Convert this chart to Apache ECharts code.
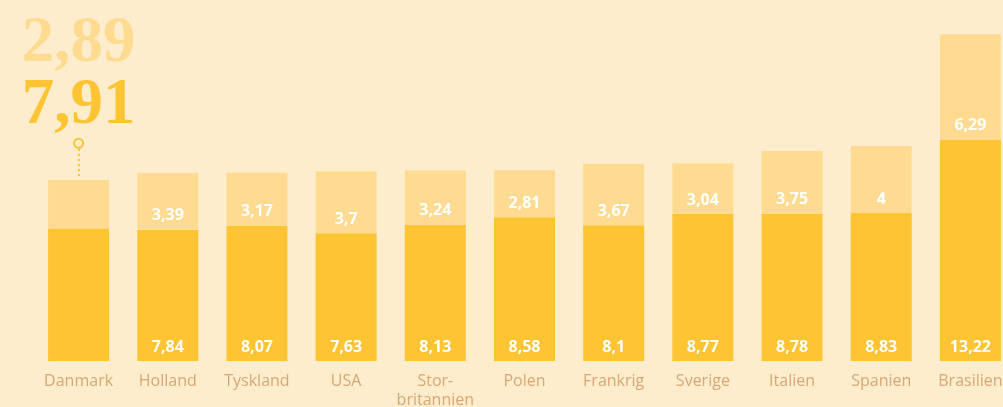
<!DOCTYPE html>
<html>
<head>
<meta charset="utf-8">
<script src="https://cdn.jsdelivr.net/npm/echarts@6/dist/echarts.min.js"></script>
<style>
  html, body { margin: 0; padding: 0; background: #fdedcc; }
  #chart { width: 1003px; height: 407px; }
</style>
</head>
<body>
<div id="chart"></div>
<script>
    // data
    var countries = ['Danmark', 'Holland', 'Tyskland', 'USA', 'Stor-\nbritannien', 'Polen', 'Frankrig', 'Sverige', 'Italien', 'Spanien', 'Brasilien'];
    var baseValues = [7.91, 7.84, 8.07, 7.63, 8.13, 8.58, 8.1, 8.77, 8.78, 8.83, 13.22];
    var topValues = [2.89, 3.39, 3.17, 3.7, 3.24, 2.81, 3.67, 3.04, 3.75, 4, 6.29];

    var bg = '#fdedcc'
    var dark = '#fec433'
    var light = '#fedb90'
    var font = 'Open Sans'

    function fmt(v) {
        return String(v).replace('.', ',')
    }

    // first category gets the big headline instead of inside labels
    function withFirstLabelOff(arr) {
        return arr.map(function (v, i) {
            if (i === 0) return {value: v, label: {show: false}}
            return v
        })
    }

    var barLabel = {
        show: true,
        position: 'insideBottom',
        distance: 6,
        color: '#fff',
        fontFamily: font,
        fontWeight: 'bold',
        fontSize: 16,
        formatter: function (p) { return fmt(p.value) }
    }

    const myChart = echarts.init(document.getElementById('chart'))
    const option = {
        backgroundColor: bg,
        animation: false,
        grid: {left: 34, width: 981, top: 26, bottom: 46, containLabel: false, outerBoundsMode: 'none'},
        xAxis: {
            type: 'category',
            data: countries,
            axisLine: {show: false},
            axisTick: {show: false},
            axisLabel: {
                color: '#d9a774',
                fontFamily: font,
                fontSize: 16,
                lineHeight: 19,
                margin: 11,
                interval: 0
            }
        },
        yAxis: {
            type: 'value',
            min: 0,
            max: 20,
            show: false,
            splitLine: {show: false}
        },
        series: [
            {
                type: 'bar',
                stack: 'tot',
                barWidth: 61,
                itemStyle: {color: dark},
                label: barLabel,
                data: withFirstLabelOff(baseValues)
            },
            {
                type: 'bar',
                stack: 'tot',
                barWidth: 61,
                itemStyle: {color: light},
                label: barLabel,
                data: withFirstLabelOff(topValues),
                markLine: {
                    silent: true,
                    symbol: ['none', 'none'],
                    label: {show: false},
                    lineStyle: {color: dark, type: [2, 3], width: 2},
                    data: [[{coord: [0, 11.05]}, {coord: [0, 12.75]}]]
                },
                markPoint: {
                    silent: true,
                    symbol: 'circle',
                    symbolSize: 9,
                    itemStyle: {color: bg, borderColor: dark, borderWidth: 2},
                    label: {
                        show: true,
                        position: 'top',
                        distance: 1,
                        fontFamily: 'Liberation Serif',
                        fontWeight: 'bold',
                        formatter: function () {
                            return '{a|' + fmt(topValues[0]) + '}\n{b|' + fmt(baseValues[0]) + '}'
                        },
                        rich: {
                            a: {fontFamily: 'Liberation Serif', fontWeight: 'bold', fontSize: 65, lineHeight: 62, color: light},
                            b: {fontFamily: 'Liberation Serif', fontWeight: 'bold', fontSize: 65, lineHeight: 62, color: dark}
                        }
                    },
                    data: [{coord: [0, 13.0]}]
                }
            }
        ]
    };
    myChart.setOption(option);
</script>
</body>
</html>
